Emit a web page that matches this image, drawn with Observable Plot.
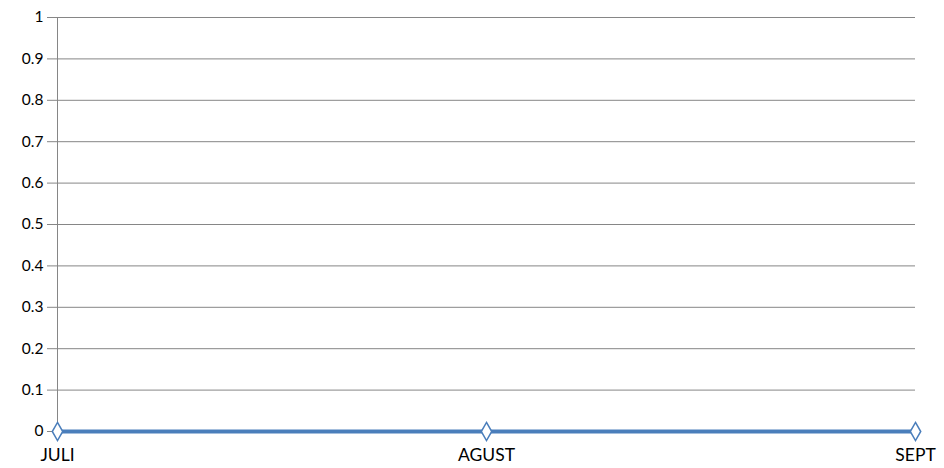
<!DOCTYPE html>
<html><head><meta charset="utf-8">
<script src="https://cdn.jsdelivr.net/npm/d3@7"></script>
<script src="https://cdn.jsdelivr.net/npm/@observablehq/plot@0.6"></script>
<style>body{margin:0;background:#fff;} svg{display:block;}</style>
</head><body><div id="chart"></div>
<script>
const months = ["JULI", "AGUST", "SEPT"];
const values = [0, 0, 0];
const yTicks = [0, 0.1, 0.2, 0.3, 0.4, 0.5, 0.6, 0.7, 0.8, 0.9, 1];

const data = months.map((m, i) => ({month: m, value: values[i]}));
const gridColor = "#868686";
const lineColor = "#4a7ebb";

const chart = Plot.plot({
  width: 944, height: 468,
  marginLeft: 56, marginRight: 29, marginTop: 17, marginBottom: 37,
  style: {fontFamily: "Lato, 'Open Sans', sans-serif", fontSize: "16px", color: "#000", background: "#fff"},
  x: {type: "point", domain: months, padding: 0, label: null},
  y: {domain: [0, 1], ticks: yTicks, label: null},
  marks: [
    Plot.ruleY(yTicks, {stroke: gridColor, strokeWidth: 1, insetLeft: -9}),
    Plot.ruleX([months[0]], {y1: 0, y2: 1, stroke: gridColor, strokeWidth: 1}),
    Plot.axisY({ticks: yTicks, tickSize: 0, tickPadding: 13, tickFormat: d => String(d), fontSize: 15.5}),
    Plot.axisX({tickSize: 6, stroke: gridColor, tickPadding: 11, fontSize: 17.5}),
    Plot.line(data, {x: "month", y: "value", stroke: lineColor, strokeWidth: 4}),
    Plot.dot(data, {x: "month", y: "value", symbol: "diamond", r: 5.5, fill: "#fff", stroke: lineColor, strokeWidth: 1.5})
  ]
});
document.getElementById("chart").appendChild(chart);
</script>
</body></html>
